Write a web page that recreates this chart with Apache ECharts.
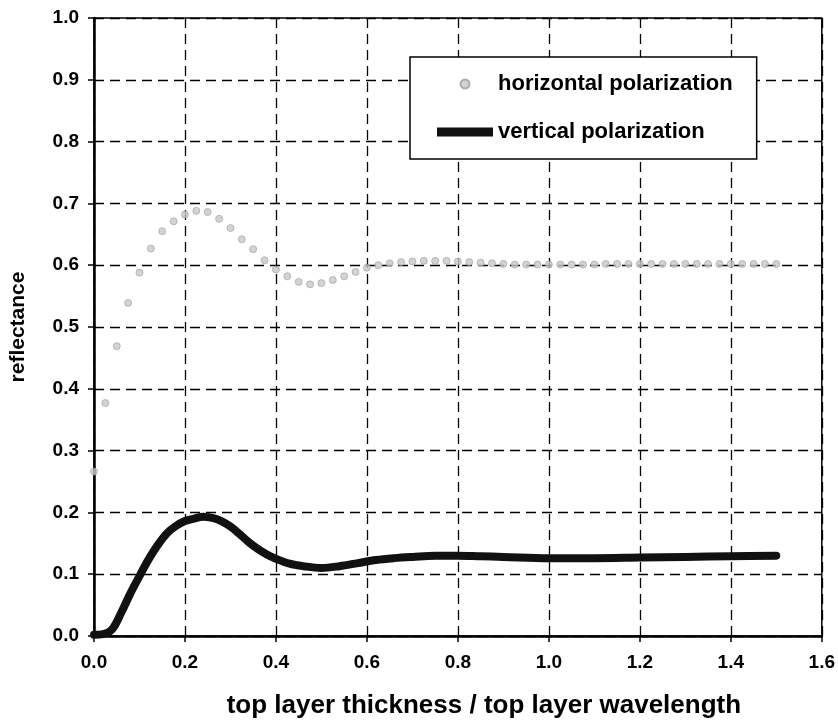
<!DOCTYPE html>
<html>
<head>
<meta charset="utf-8">
<script src="https://cdn.jsdelivr.net/npm/echarts@6/dist/echarts.min.js"></script>
<style>
  html, body { margin: 0; padding: 0; background: #fff; }
  #chart { width: 838px; height: 727px; }
</style>
</head>
<body>
<div id="chart"></div>
<script>
// Reflectance of the layered structure versus top layer thickness (in wavelengths)

// horizontal polarization: sampled points
const hThickness = [
  0.000, 0.025, 0.050, 0.075, 0.100, 0.125, 0.150, 0.175, 0.200, 0.225,
  0.250, 0.275, 0.300, 0.325, 0.350, 0.375, 0.400, 0.425, 0.450, 0.475,
  0.500, 0.525, 0.550, 0.575, 0.600, 0.625, 0.650, 0.675, 0.700, 0.725,
  0.750, 0.775, 0.800, 0.825, 0.850, 0.875, 0.900, 0.925, 0.950, 0.975,
  1.000, 1.025, 1.050, 1.075, 1.100, 1.125, 1.150, 1.175, 1.200, 1.225,
  1.250, 1.275, 1.300, 1.325, 1.350, 1.375, 1.400, 1.425, 1.450, 1.475, 1.500
];
const hReflectance = [
  0.266, 0.377, 0.469, 0.539, 0.588, 0.627, 0.655, 0.671, 0.682, 0.688,
  0.686, 0.675, 0.660, 0.642, 0.626, 0.608, 0.593, 0.582, 0.573, 0.569,
  0.571, 0.576, 0.582, 0.589, 0.596, 0.600, 0.603, 0.605, 0.606, 0.607,
  0.607, 0.607, 0.606, 0.605, 0.604, 0.603, 0.602, 0.601, 0.601, 0.601,
  0.601, 0.601, 0.601, 0.601, 0.601, 0.602, 0.602, 0.602, 0.602, 0.602,
  0.602, 0.602, 0.602, 0.602, 0.602, 0.602, 0.602, 0.602, 0.602, 0.602, 0.602
];

// vertical polarization: continuous curve
const vThickness = [
  0.00, 0.02, 0.04, 0.06, 0.08, 0.10, 0.12, 0.14, 0.16, 0.18,
  0.20, 0.22, 0.24, 0.26, 0.28, 0.30, 0.32, 0.34, 0.36, 0.38,
  0.40, 0.43, 0.46, 0.50, 0.54, 0.58, 0.62, 0.66, 0.70, 0.75,
  0.80, 0.85, 0.90, 1.00, 1.10, 1.20, 1.30, 1.40, 1.50
];
const vReflectance = [
  0.002, 0.003, 0.011, 0.038, 0.069, 0.097, 0.124, 0.147, 0.166, 0.178,
  0.186, 0.190, 0.193, 0.191, 0.186, 0.177, 0.165, 0.152, 0.141, 0.132,
  0.125, 0.117, 0.113, 0.110, 0.113, 0.118, 0.123, 0.126, 0.128, 0.130,
  0.130, 0.129, 0.128, 0.126, 0.126, 0.127, 0.128, 0.129, 0.130
];

const xTicks = [0, 0.2, 0.4, 0.6, 0.8, 1.0, 1.2, 1.4, 1.6];
const yTicks = [0, 0.1, 0.2, 0.3, 0.4, 0.5, 0.6, 0.7, 0.8, 0.9, 1.0];

const seriesNames = ['horizontal polarization', 'vertical polarization'];

const zip = (xs, ys) => xs.map((x, i) => [x, ys[i]]);
const FONT = '"Liberation Sans", Arial, sans-serif';

const chart = echarts.init(document.getElementById('chart'), null, { renderer: 'canvas' });

chart.setOption({
  backgroundColor: '#ffffff',
  animation: false,
  grid: {
    left: 94, right: 14, top: 18, bottom: 91,
    show: true, borderColor: '#000', borderWidth: 1.5, backgroundColor: 'transparent'
  },
  legend: {
    orient: 'vertical',
    left: 410, top: 57,
    padding: [16, 24, 16, 27],
    itemWidth: 56, itemHeight: 9, itemGap: 26,
    backgroundColor: '#ffffff',
    borderColor: '#000', borderWidth: 1.5, borderRadius: 0,
    symbolKeepAspect: true,
    textStyle: { fontFamily: FONT, fontWeight: 'bold', fontSize: 22, color: '#000' },
    data: [
      { name: seriesNames[0], icon: 'circle' },
      { name: seriesNames[1], icon: 'rect' }
    ]
  },
  xAxis: {
    type: 'value',
    min: xTicks[0], max: xTicks[xTicks.length - 1], interval: 0.2,
    name: 'top layer thickness / top layer wavelength',
    nameLocation: 'middle', nameGap: 57,
    nameTextStyle: {
      fontFamily: FONT, fontWeight: 'bold', fontSize: 26, color: '#000',
      padding: [0, 0, 0, 52]
    },
    axisLine: { show: true, onZero: false, lineStyle: { color: '#000', width: 2.5 } },
    axisTick: { show: true, inside: false, length: 6, lineStyle: { color: '#000', width: 1.5 } },
    axisLabel: {
      margin: 17, fontFamily: FONT, fontWeight: 'bold', fontSize: 19, color: '#000',
      formatter: v => v.toFixed(1)
    },
    splitLine: { show: true, lineStyle: { color: '#000', width: 1.3, type: [10, 6] } }
  },
  yAxis: {
    type: 'value',
    min: yTicks[0], max: yTicks[yTicks.length - 1], interval: 0.1,
    name: 'reflectance',
    nameLocation: 'middle', nameGap: 65,
    nameTextStyle: { fontFamily: FONT, fontWeight: 'bold', fontSize: 21, color: '#000' },
    axisLine: { show: true, onZero: false, lineStyle: { color: '#000', width: 2.5 } },
    axisTick: { show: true, inside: false, length: 6, lineStyle: { color: '#000', width: 1.5 } },
    axisLabel: {
      margin: 15, fontFamily: FONT, fontWeight: 'bold', fontSize: 19, color: '#000',
      formatter: v => v.toFixed(1)
    },
    splitLine: { show: true, lineStyle: { color: '#000', width: 1.3, type: [10, 6] } }
  },
  series: [
    {
      name: seriesNames[0],
      type: 'scatter',
      data: zip(hThickness, hReflectance),
      symbol: 'circle',
      symbolSize: 7,
      itemStyle: { color: '#c8c8c8', borderColor: '#9e9e9e', borderWidth: 0.8 },
      z: 3
    },
    {
      name: seriesNames[1],
      type: 'line',
      data: zip(vThickness, vReflectance),
      showSymbol: false,
      symbol: 'none',
      smooth: 0.35,
      lineStyle: { color: '#111', width: 8, cap: 'round' },
      itemStyle: { color: '#111' },
      z: 4
    }
  ]
});
</script>
</body>
</html>
